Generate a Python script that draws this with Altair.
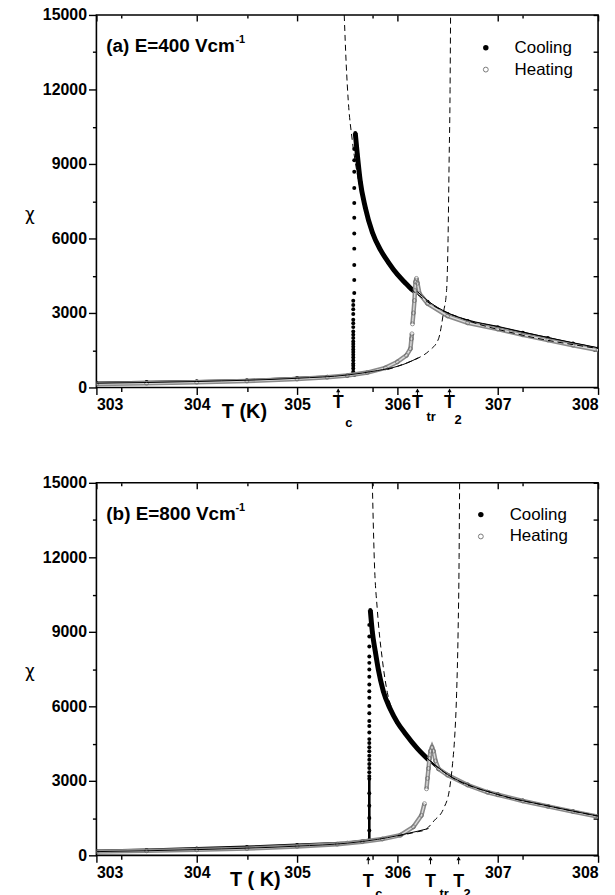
import altair as alt
import pandas as pd

FONT = "Liberation Sans"
W, H = 505, 375

# ---------------- axes ----------------
x_major = [303, 304, 305, 306, 307, 308]
x_minor = [303.25, 303.5, 303.75, 304.25, 304.5, 304.75, 305.25, 305.5, 305.75,
           306.25, 306.5, 306.75, 307.25, 307.5, 307.75]
y_major = [0, 3000, 6000, 9000, 12000, 15000]
y_minor = [1500, 4500, 7500, 10500, 13500]
y_all = [0, 1500, 3000, 4500, 6000, 7500, 9000, 10500, 12000, 13500, 15000]

# ---------------- panel (a) E = 400 V/cm ----------------
a_cool_low_T = [303.0, 303.5, 304.0, 304.5, 305.0, 305.3, 305.5, 305.57]
a_cool_low_chi = [190, 220, 250, 290, 380, 430, 470, 500]
a_cool_jump_T = [305.56, 305.56, 305.56, 305.56, 305.56, 305.56, 305.56, 305.56, 305.56,
                 305.56, 305.56, 305.56, 305.56, 305.56, 305.56, 305.56, 305.56, 305.56,
                 305.56, 305.56, 305.56, 305.56, 305.56, 305.57, 305.57, 305.57, 305.57,
                 305.57, 305.57, 305.57, 305.57, 305.57, 305.57, 305.57]
a_cool_jump_chi = [560, 630, 760, 870, 960, 1090, 1210, 1320, 1430, 1530, 1640, 1750,
                   1850, 1990, 2120, 2250, 2430, 2590, 2730, 2960, 3150, 3320, 3490,
                   3800, 4330, 4930, 5590, 6200, 6830, 7430, 8030, 8690, 9150, 9600]
a_cool_hi_T = [305.58, 305.60, 305.63, 305.68, 305.75, 305.83, 305.91, 306.00, 306.07,
               306.14, 306.20]
a_cool_hi_chi = [10250, 9400, 8300, 7250, 6250, 5550, 5040, 4550, 4250, 3960, 3800]
a_cool_tail_T = [306.20, 306.30, 306.50, 306.70, 307.00, 307.25, 307.50, 307.75, 308.00]
a_cool_tail_chi = [3800, 3450, 2960, 2680, 2430, 2200, 1990, 1770, 1570]

a_heat1_T = [303.0, 303.5, 304.0, 304.5, 305.0, 305.3, 305.5, 305.7, 305.88, 306.0,
             306.09, 306.13, 306.14, 306.145]
a_heat1_chi = [140, 170, 210, 260, 340, 410, 480, 600, 790, 1030, 1290, 1560, 1960, 2160]
a_heat2_T = [306.15, 306.16, 306.17, 306.175, 306.18, 306.19, 306.20, 306.22, 306.30,
             306.50, 306.70, 307.00, 307.25, 307.50, 307.75, 308.00]
a_heat2_chi = [2560, 3000, 3500, 3900, 4250, 4390, 4200, 3780, 3380, 2880, 2600, 2350,
               2120, 1910, 1700, 1510]

a_fit_low_T = [303.0, 304.0, 305.0, 305.5, 305.8, 306.0, 306.1, 306.21]
a_fit_low_chi = [170, 240, 370, 500, 680, 850, 990, 1200]
a_fit_high_T = [306.20, 306.30, 306.50, 306.70, 307.00, 307.50, 308.00]
a_fit_high_chi = [3860, 3500, 3010, 2720, 2460, 2010, 1600]
a_dash1_T = [305.47, 305.49, 305.51, 305.55, 305.60, 305.68, 305.80, 306.00, 306.30,
             306.70, 307.20, 308.00]
a_dash1_chi = [15000, 13000, 11560, 9960, 8600, 7200, 5800, 4550, 3450, 2700, 2150, 1570]
a_dash2_T = [305.90, 306.00, 306.10, 306.21, 306.32, 306.41, 306.46, 306.49, 306.505,
             306.515, 306.525, 306.53]
a_dash2_chi = [720, 850, 1000, 1190, 1490, 1960, 3040, 3900, 6000, 9000, 12000, 15000]
a_marks_T = [305.41, 306.20, 306.52]

# ---------------- panel (b) E = 800 V/cm ----------------
b_cool_low_T = [303.0, 303.5, 304.0, 304.5, 305.0, 305.5, 305.72, 305.72, 305.72,
                305.72, 305.72, 305.72]
b_cool_low_chi = [180, 220, 280, 340, 420, 510, 620, 1000, 1500, 2000, 2500, 3080]
b_cool_jump_T = [305.72, 305.72, 305.72, 305.72, 305.72, 305.72, 305.72, 305.72, 305.72,
                 305.72, 305.72, 305.72, 305.72, 305.72, 305.72, 305.72, 305.72, 305.72,
                 305.72, 305.72, 305.72, 305.72, 305.72, 305.72, 305.72]
b_cool_jump_chi = [3190, 3350, 3520, 3680, 3850, 4010, 4190, 4350, 4520, 4680, 4950,
                   5210, 5410, 5720, 6010, 6350, 6610, 6880, 7190, 7480, 7750, 8010,
                   8410, 8810, 9280]
b_cool_hi_T = [305.73, 305.75, 305.78, 305.81, 305.86, 305.93, 306.00, 306.08, 306.20,
               306.31]
b_cool_hi_chi = [9880, 9000, 8200, 7480, 6600, 5880, 5350, 4900, 4300, 3850]
b_cool_tail_T = [306.31, 306.41, 306.50, 306.70, 306.90, 307.00, 307.25, 307.50, 307.75,
                 308.00]
b_cool_tail_chi = [3850, 3480, 3250, 2850, 2560, 2460, 2210, 1990, 1780, 1580]

b_heat1_T = [303.0, 303.5, 304.0, 304.5, 305.0, 305.4, 305.65, 305.85, 306.03, 306.16,
             306.24, 306.27]
b_heat1_chi = [150, 180, 220, 270, 360, 450, 550, 660, 810, 1150, 1610, 2080]
b_heat2_T = [306.29, 306.30, 306.31, 306.32, 306.33, 306.345, 306.36, 306.38, 306.41,
             306.50, 306.70, 306.90, 307.00, 307.25, 307.50, 307.75, 308.00]
b_heat2_chi = [2680, 3100, 3500, 3900, 4200, 4350, 4200, 3800, 3480, 3230, 2830, 2540,
               2440, 2190, 1970, 1760, 1560]

b_fit_low_T = [303.0, 304.0, 305.0, 305.5, 305.8, 306.0, 306.2, 306.31]
b_fit_low_chi = [150, 230, 370, 490, 640, 790, 970, 1080]
b_fit_high_T = [306.33, 306.50, 306.70, 307.00, 307.50, 308.00]
b_fit_high_chi = [3800, 3250, 2850, 2450, 1990, 1580]
b_dash1_T = [305.75, 305.77, 305.80, 305.85, 305.90, 305.96, 306.05, 306.20, 306.50,
             307.00, 307.50, 308.00]
b_dash1_chi = [15000, 11880, 9880, 7880, 6550, 5750, 5000, 4300, 3250, 2450, 1990, 1580]
b_dash2_T = [306.00, 306.10, 306.20, 306.27, 306.37, 306.46, 306.52, 306.55, 306.57,
             306.59, 306.605, 306.615, 306.62]
b_dash2_chi = [780, 860, 950, 1013, 1413, 1880, 2680, 3700, 4700, 6500, 9000, 12000, 15000]
b_marks_T = [305.71, 306.33, 306.61]

mark_subs = ["c", "tr", "2"]

xs = alt.Scale(domain=[303, 308], nice=False, zero=False)
ys = alt.Scale(domain=[0, 15000], nice=False, zero=False)


def seg_df(pairs):
    rows = []
    for name, Ts, chis in pairs:
        for i, (t, c) in enumerate(zip(Ts, chis)):
            rows.append({"T": t, "chi": c, "seg": name, "ord": i})
    return pd.DataFrame(rows)


def ax(orient, values, size, labels=True, offset=0, fmt="d"):
    kw = dict(orient=orient, values=values, tickSize=size, labels=labels, domain=False,
              grid=False, title=None, tickColor="black", tickWidth=1.4, format=fmt,
              labelFont=FONT, labelFontWeight="bold", labelFontSize=16,
              labelColor="black", labelPadding=2)
    if offset:
        kw["offset"] = offset
    return alt.Axis(**kw)


def panel(cool, heat, fit, dash, marks_T, label, title_txt, title_x, leg_x, leg_y,
          chi_y, tlab_y, sub_dy):
    frame = pd.DataFrame({"T": [303, 308], "chi": [0, 15000]})

    def axis_layer(xa, ya):
        return alt.Chart(frame).mark_point(opacity=0).encode(
            x=alt.X("T:Q", scale=xs, axis=xa), y=alt.Y("chi:Q", scale=ys, axis=ya))

    axes = [
        axis_layer(ax("bottom", x_major, 7), ax("left", y_major, 8)),
        axis_layer(ax("bottom", x_minor, 4, labels=False), ax("left", y_minor, 4, labels=False)),
        axis_layer(ax("top", x_major, 6, labels=False, offset=-6),
                   ax("right", y_all, 5, labels=False, offset=-5)),
        axis_layer(ax("top", x_minor, 3, labels=False, offset=-3), None),
    ]

    X = alt.X("T:Q", scale=xs, axis=None)
    Y = alt.Y("chi:Q", scale=ys, axis=None)

    cool_src = alt.Chart(cool)
    cool_low = cool_src.transform_filter("datum.seg == 'low'").mark_line(
        color="black", strokeWidth=2.6, clip=True).encode(x=X, y=Y, order="ord:Q")
    cool_hi = cool_src.transform_filter("datum.seg == 'hi'").mark_line(
        color="black", strokeWidth=5, clip=True, interpolate="monotone").encode(
        x=X, y=Y, order="ord:Q")
    cool_tail = cool_src.transform_filter("datum.seg == 'tail'").mark_line(
        color="black", strokeWidth=2, clip=True, interpolate="monotone").encode(
        x=X, y=Y, order="ord:Q")
    cool_pts = cool_src.mark_circle(color="black", size=16, opacity=1, clip=True).encode(x=X, y=Y)

    heat_src = alt.Chart(heat)
    heat_band = heat_src.mark_line(color="#8a8a8a", strokeWidth=4.5, clip=True).encode(
        x=X, y=Y, detail="seg:N", order="ord:Q")
    heat_core = heat_src.mark_line(color="#dadada", strokeWidth=1.4, clip=True).encode(
        x=X, y=Y, detail="seg:N", order="ord:Q")
    heat_pts = heat_src.mark_point(shape="circle", filled=False, color="#6a6a6a", size=16,
                                   strokeWidth=1, clip=True).encode(x=X, y=Y)

    fit_l = alt.Chart(fit).mark_line(color="black", strokeWidth=1, clip=True,
                                     interpolate="monotone").encode(
        x=X, y=Y, detail="seg:N", order="ord:Q")
    dash_l = alt.Chart(dash).mark_line(color="black", strokeWidth=1, strokeDash=[6, 4],
                                       clip=True, interpolate="monotone").encode(
        x=X, y=Y, detail="seg:N", order="ord:Q")

    mk = pd.DataFrame({"T": marks_T, "sub": mark_subs})
    arrow_line = alt.Chart(mk).mark_rule(color="black", strokeWidth=1).encode(
        x=X, y=alt.value(H + 9), y2=alt.value(H + 2))
    arrow_head = alt.Chart(mk).mark_point(shape="triangle-up", filled=True, color="black",
                                          size=18, opacity=1).encode(x=X, y=alt.value(H + 3))
    t_lab = alt.Chart(mk).mark_text(font=FONT, fontSize=18, fontWeight="bold",
                                    baseline="middle", align="center").encode(
        x=X, y=alt.value(tlab_y), text=alt.value("T"))
    subs = []
    for s, ddx, ddy in zip(mark_subs, [7, 9, 5], sub_dy):
        subs.append(alt.Chart(mk).transform_filter(f"datum.sub == '{s}'").mark_text(
            font=FONT, fontSize=13, fontWeight="bold", baseline="middle", align="left",
            dx=ddx).encode(x=X, y=alt.value(tlab_y + ddy), text="sub:N"))

    one = pd.DataFrame({"k": [0]})
    texts = []
    texts.append(alt.Chart(one).mark_text(font=FONT, fontSize=19, fontWeight="bold",
                                          align="left", baseline="middle").encode(
        x=alt.value(10), y=alt.value(31), text=alt.value(label)))
    texts.append(alt.Chart(one).mark_text(font=FONT, fontSize=11, fontWeight="bold",
                                          align="left", baseline="middle").encode(
        x=alt.value(140), y=alt.value(25), text=alt.value("-1")))
    texts.append(alt.Chart(one).mark_text(font=FONT, fontSize=20, fontWeight="bold",
                                          align="center", baseline="middle").encode(
        x=alt.value(title_x), y=alt.value(H + 25), text=alt.value(title_txt)))
    texts.append(alt.Chart(one).mark_text(font="DejaVu Sans", fontSize=17, align="center",
                                          baseline="middle").encode(
        x=alt.value(-67), y=alt.value(chi_y), text=alt.value("χ")))
    texts.append(alt.Chart(one).mark_circle(color="black", size=30, opacity=1).encode(
        x=alt.value(leg_x), y=alt.value(leg_y)))
    texts.append(alt.Chart(one).mark_point(shape="circle", filled=False, color="#444",
                                           size=24, strokeWidth=1).encode(
        x=alt.value(leg_x), y=alt.value(leg_y + 22)))
    texts.append(alt.Chart(one).mark_text(font=FONT, fontSize=17, align="left",
                                          baseline="middle").encode(
        x=alt.value(leg_x + 29), y=alt.value(leg_y), text=alt.value("Cooling")))
    texts.append(alt.Chart(one).mark_text(font=FONT, fontSize=17, align="left",
                                          baseline="middle").encode(
        x=alt.value(leg_x + 29), y=alt.value(leg_y + 22), text=alt.value("Heating")))

    layers = axes + [cool_low, cool_hi, cool_tail, cool_pts, heat_band, heat_core,
                     heat_pts, fit_l, dash_l, arrow_line, arrow_head, t_lab] + subs + texts
    return alt.layer(*layers).properties(width=W, height=H).resolve_axis(
        x="independent", y="independent")


a_cool = seg_df([("low", a_cool_low_T, a_cool_low_chi), ("jump", a_cool_jump_T, a_cool_jump_chi),
                 ("hi", a_cool_hi_T, a_cool_hi_chi), ("tail", a_cool_tail_T, a_cool_tail_chi)])
a_heat = seg_df([("h1", a_heat1_T, a_heat1_chi), ("h2", a_heat2_T, a_heat2_chi)])
a_fit = seg_df([("f1", a_fit_low_T, a_fit_low_chi), ("f2", a_fit_high_T, a_fit_high_chi)])
a_dash = seg_df([("d1", a_dash1_T, a_dash1_chi), ("d2", a_dash2_T, a_dash2_chi)])

b_cool = seg_df([("low", b_cool_low_T, b_cool_low_chi), ("jump", b_cool_jump_T, b_cool_jump_chi),
                 ("hi", b_cool_hi_T, b_cool_hi_chi), ("tail", b_cool_tail_T, b_cool_tail_chi)])
b_heat = seg_df([("h1", b_heat1_T, b_heat1_chi), ("h2", b_heat2_T, b_heat2_chi)])
b_fit = seg_df([("f1", b_fit_low_T, b_fit_low_chi), ("f2", b_fit_high_T, b_fit_high_chi)])
b_dash = seg_df([("d1", b_dash1_T, b_dash1_chi), ("d2", b_dash2_T, b_dash2_chi)])

pa = panel(a_cool, a_heat, a_fit, a_dash, a_marks_T, "(a) E=400 Vcm", "T (K)", 149,
           392, 33, 201, 391, [20, 14, 17])
pb = panel(b_cool, b_heat, b_fit, b_dash, b_marks_T, "(b) E=800 Vcm", "T ( K)", 160,
           387, 32, 190, 402, [12, 12, 12])

chart = alt.vconcat(pa, pb, spacing=43).properties(
    padding={"left": 16, "top": -5, "right": 5, "bottom": 0}
).configure(font=FONT).configure_view(stroke="black", strokeWidth=1.6)

chart.save("out.html", embed_options={"renderer": "svg", "actions": False})
